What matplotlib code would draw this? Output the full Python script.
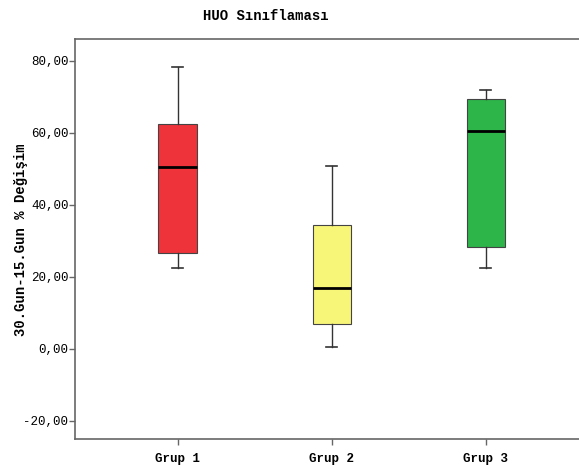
import matplotlib.pyplot as plt

# Values
groups = ["Grup 1", "Grup 2", "Grup 3"]
whisker_low = [22.5, 0.3, 22.5]
q1 = [26.5, 6.8, 28.3]
median = [50.5, 16.8, 60.3]
q3 = [62.4, 34.3, 69.4]
whisker_high = [78.3, 50.6, 71.9]
colors = ["#EF333B", "#F8F679", "#2DB54A"]

yticks = [-20, 0, 20, 40, 60, 80]
ytick_labels = ["-20,00", "0,00", "20,00", "40,00", "60,00", "80,00"]

mono = "Liberation Mono"

fig = plt.figure(figsize=(5.79, 4.69), dpi=100)
ax = fig.add_axes([0.129, 0.0633, 0.888, 0.853])

stats = []
for i, g in enumerate(groups):
    stats.append({"label": g, "whislo": whisker_low[i], "q1": q1[i], "med": median[i],
                  "q3": q3[i], "whishi": whisker_high[i], "fliers": []})

positions = list(range(1, len(groups) + 1))
bp = ax.bxp(stats, positions=positions, widths=0.25, patch_artist=True,
            showfliers=False, capwidths=0.07,
            boxprops=dict(edgecolor="#444444", linewidth=0.8),
            whiskerprops=dict(color="#333333", linewidth=1.0),
            capprops=dict(color="#333333", linewidth=1.2),
            medianprops=dict(color="black", linewidth=2))
for patch, c in zip(bp["boxes"], colors):
    patch.set_facecolor(c)

ax.set_xlim(0.331, 3.669)
ax.set_ylim(-25.2, 85.9)
ax.set_yticks(yticks)
ax.set_yticklabels(ytick_labels, family=mono, fontsize=9)
ax.set_xticks(positions)
ax.set_xticklabels(groups, family=mono, fontsize=9, fontweight="bold")

for s in ax.spines.values():
    s.set_color("#666666")
    s.set_linewidth(1.2)
ax.tick_params(axis="both", colors="#666666", length=4, width=1, labelcolor="black")
ax.tick_params(axis="y", pad=0.5)
ax.tick_params(axis="x", pad=6)

ax.set_ylabel("30.Gun-15.Gun % Değişim", family=mono, fontsize=10, fontweight="bold")
ax.yaxis.set_label_coords(-0.09, 0.5)

fig.text(0.4585, 1 - 16 / 469, "HUO Sınıflaması", family=mono, fontsize=10,
         fontweight="bold", ha="center", va="center")

fig.savefig("out.png", dpi=100)
